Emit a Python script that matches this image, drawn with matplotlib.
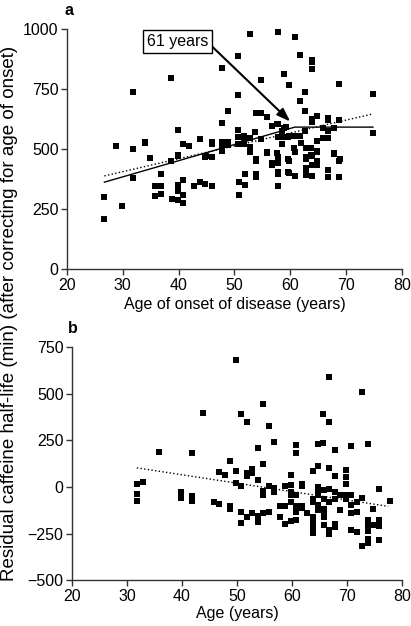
import matplotlib
matplotlib.use("Agg")
import matplotlib.pyplot as plt
import numpy as np

plt.rcParams['font.family'] = ['Liberation Sans', 'DejaVu Sans']

# ---------------- Panel a data: age of onset vs residual half-life ----------------
onset_age = [
    28.8, 31.8, 31.8, 33.9, 33.9, 34.8, 38.7, 39.8, 39.8, 40.8, 41.9, 43.8, 45.9, 45.9,
    47.8, 47.8, 47.8, 48.8, 48.8, 50.7, 50.7, 50.7, 50.7, 50.7, 51.7, 51.7, 51.7, 52.7,
    52.8, 52.8, 52.8, 53.7, 53.9, 54.8, 54.8, 55.8, 56.8, 57.8, 57.8, 58.8, 58.8, 57.8,
    59.8, 59.8, 60.8, 60.8, 61.8, 61.8, 61.8, 62.7, 62.7, 62.7, 63.8, 63.8, 63.8, 63.8,
    63.8, 64.8, 65.8, 66.8, 66.8, 68.8, 68.8, 74.8, 74.8,
    26.7, 26.7, 29.9, 31.8, 36.8, 35.8, 35.8, 36.8, 36.8, 38.7, 38.8, 39.8, 39.8, 39.8,
    39.8, 40.8, 40.8, 40.8, 42.8, 43.8, 44.8, 44.8, 45.9, 45.9, 47.8, 50.8, 50.8, 51.8,
    51.8, 52.8, 53.8, 53.8, 53.8, 55.8, 56.8, 56.8, 57.8, 57.8, 57.8, 57.8, 57.8, 57.8,
    59.8, 59.8, 60.8, 60.8, 62.8, 62.8, 62.8, 62.8, 63.8, 63.8, 63.8, 64.8, 64.8, 64.8,
    66.8, 66.8, 67.8, 68.8, 68.8,
    47.7, 48.8, 55.8, 56.8, 57.7, 58.6, 58.6, 58.6, 59.6, 59.6, 59.6, 60.7, 61.9, 62.8,
    62.8, 63.7, 63.7, 64.8, 64.8, 65.8, 66.8, 67.8, 66.7, 67.8, 68.9, 56.8, 57.7, 59.2,
    47.7, 48.8, 44.9, 53.9, 53.9, 54.7,
]
onset_halflife = [
    513, 736, 500, 531, 524, 462, 797, 580, 476, 521, 514, 541, 531, 520,
    836, 610, 528, 660, 521, 888, 723, 577, 549, 521, 552, 538, 521, 979,
    547, 507, 492, 569, 649, 649, 785, 631, 594, 605, 549, 812, 587, 988,
    768, 552, 965, 555, 889, 698, 556, 737, 660, 576, 871, 861, 834, 626,
    614, 637, 589, 628, 619, 770, 619, 730, 566,
    302, 209, 263, 378, 394, 344, 306, 344, 311, 448, 293, 472, 349, 324,
    286, 369, 309, 274, 344, 362, 353, 468, 468, 345, 493, 362, 309, 394,
    349, 488, 452, 394, 384, 482, 438, 433, 468, 452, 441, 404, 394, 345,
    448, 399, 488, 388, 460, 421, 410, 391, 471, 433, 388, 488, 448, 435,
    411, 385, 481, 452, 384,
    503, 518, 486, 443, 482, 576, 551, 520, 549, 457, 404, 503, 524, 503,
    465, 503, 475, 532, 493, 545, 545, 586, 575, 485, 457, 596, 604, 593,
    530, 530, 471, 457, 382, 540,
]

# piecewise (solid) fit and linear (dotted) fit
piecewise_x = [26.7, 60.8, 74.8]
piecewise_y = [362, 591, 591]
linear_a_x = [26.7, 74.8]
linear_a_y = [388, 646]

# ---------------- Panel b data: age vs residual half-life ----------------
age_b = [
    35.9, 41.9, 43.8, 48.8, 49.9, 50.8, 51.8, 52.7, 53.8, 54.8, 54.8, 55.8, 56.8, 60.7,
    60.7, 64.8, 65.7, 65.7, 66.7, 66.7, 66.7, 64.8, 67.8, 69.8, 70.7, 72.8, 73.8,
    31.8, 31.8, 31.8, 32.9, 39.8, 39.8, 41.9, 41.9, 41.9, 45.9, 46.8, 46.8, 47.9, 48.8,
    48.8, 49.9, 49.9, 50.8, 50.8, 50.8, 51.8, 51.8, 51.8, 52.7, 52.7, 52.7, 53.8, 53.8,
    53.8, 54.8, 54.8, 54.8, 55.8, 55.8, 56.8, 56.8, 57.8, 57.8, 58.8, 58.8, 58.8, 59.8,
    59.8, 59.8, 59.8, 59.8, 59.8, 60.8, 60.8, 60.8, 60.8, 60.8, 61.8, 61.8, 61.8, 61.8,
    62.8, 63.8, 63.8, 63.8, 63.8, 63.8, 63.8, 63.8, 64.8, 64.8, 64.8, 64.8, 64.8, 64.8,
    65.8, 65.8, 65.8, 65.8, 65.8, 65.8, 66.7, 66.7, 66.7, 66.7, 66.7, 67.8, 67.8, 67.8,
    67.8, 67.8, 68.8, 68.8, 69.8, 69.8, 69.8, 69.8, 69.8, 70.8, 70.8, 70.8, 70.8, 71.8,
    71.8, 71.8, 72.8, 72.8, 73.8, 73.8, 73.8, 73.8, 73.8, 74.8, 74.8, 75.9, 75.9, 75.9,
    75.9, 77.9,
]
resid_b = [
    189, 182, 393, 137, 677, 388, 350, 98, 209, 446, 120, 325, 241, 225,
    180, 229, 234, 388, 591, 348, 100, 112, 195, 91, 221, 509, 232,
    18, -37, -77, 25, -27, -62, -50, -64, -77, -79, -93, 80, 62, -100,
    -116, 84, 21, 4, -136, -193, 75, 57, -161, 96, 75, -139, 36, -157,
    -189, -20, -46, -139, 7, -136, -5, -29, -104, -161, 4, -100, -196, 66,
    12, -29, -41, -82, -180, -41, -104, -121, -134, -177, 18, 4, -100, -112,
    -139, 84, -64, -82, -161, -193, -220, -246, 114, 0, -23, -41, -95, -121,
    -18, -64, -118, -143, -161, -202, 102, -11, -82, -232, -250, 57, -29, -64,
    -196, -214, -41, -125, 89, 54, 18, -46, -64, -46, -95, -139, -229, -82,
    -136, -243, -59, -314, -175, -211, -238, -279, -300, -118, -202, -9, -175, -207,
    -282, -75,
]
linear_b_x = [31.8, 77.5]
linear_b_y = [102, -104]

FS = 11.5
fig = plt.figure(figsize=(4.11, 6.26), dpi=100)

def style(ax):
    for s in ('top', 'right'):
        ax.spines[s].set_visible(False)
    for s in ('left', 'bottom'):
        ax.spines[s].set_color('#333333')
        ax.spines[s].set_linewidth(1.0)
    ax.tick_params(direction='out', length=4, width=1.0, color='#333333',
                   labelsize=FS, pad=2)

# ---- Panel a ----
axa = fig.add_axes([0.163, 0.570, 0.815, 0.384])
axa.plot(onset_age, onset_halflife, 's', color='black', markersize=3.8,
         markeredgewidth=0, clip_on=False)
axa.plot(piecewise_x, piecewise_y, '-', color='black', linewidth=1.0)
axa.plot(linear_a_x, linear_a_y, ':', color='black', linewidth=1.0)
axa.set_xlim(20, 80)
axa.set_ylim(0, 1000)
axa.set_xticks([20, 30, 40, 50, 60, 70, 80])
axa.set_yticks([0, 250, 500, 750, 1000])
axa.set_xlabel('Age of onset of disease (years)', fontsize=FS, labelpad=3)
style(axa)
axa.annotate('', xy=(60.0, 614), xytext=(45.6, 935),
             arrowprops=dict(arrowstyle='-|>,head_length=0.8,head_width=0.28',
                             color='black', lw=1.5, shrinkA=0, shrinkB=0))
axa.text(39.8, 947, '61 years', fontsize=FS, ha='center', va='center',
         bbox=dict(boxstyle='square,pad=0.25', fc='white', ec='black', lw=1.0))
fig.text(0.158, 0.996, 'a', fontsize=FS, fontweight='bold', ha='left', va='top')

# ---- Panel b ----
axb = fig.add_axes([0.175, 0.073, 0.803, 0.373])
axb.plot(age_b, resid_b, 's', color='black', markersize=3.8,
         markeredgewidth=0, clip_on=False)
axb.plot(linear_b_x, linear_b_y, ':', color='black', linewidth=1.0)
axb.set_xlim(20, 80)
axb.set_ylim(-500, 750)
axb.set_xticks([20, 30, 40, 50, 60, 70, 80])
axb.set_yticks([-500, -250, 0, 250, 500, 750])
axb.set_yticklabels(['\u2212500', '\u2212250', '0', '250', '500', '750'])
axb.set_xlabel('Age (years)', fontsize=FS, labelpad=2)
style(axb)
fig.text(0.165, 0.487, 'b', fontsize=FS, fontweight='bold', ha='left', va='top')

fig.text(0.024, 0.50,
         'Residual caffeine half-life (min) (after correcting for age of onset)',
         rotation=90, ha='center', va='center', fontsize=13.5)

fig.savefig('out.png', dpi=100)
